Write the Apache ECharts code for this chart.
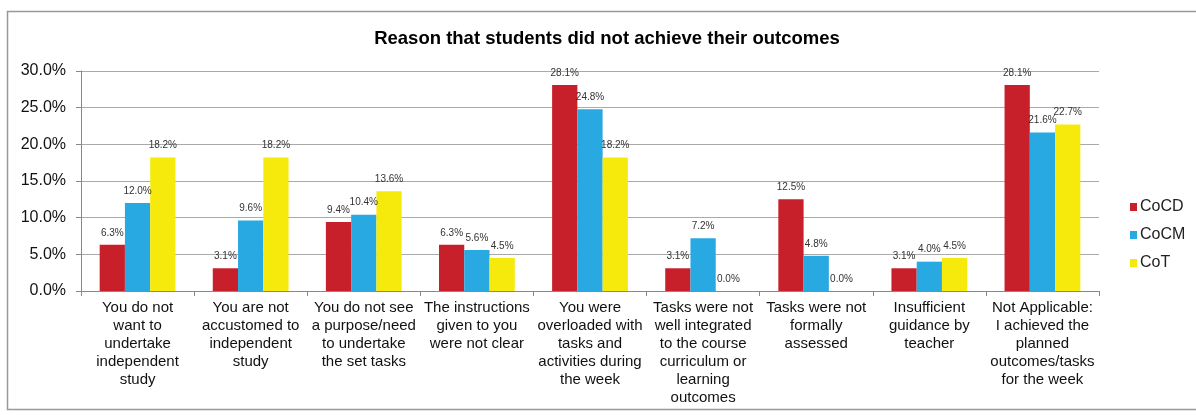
<!DOCTYPE html>
<html>
<head>
<meta charset="utf-8">
<script src="https://cdn.jsdelivr.net/npm/echarts@6/dist/echarts.min.js"></script>
<style>
  html, body { margin: 0; padding: 0; background: #fff; }
  #chart { width: 1196px; height: 415px; }
</style>
</head>
<body>
<div id="chart"></div>
<script>
// categories along the x axis
const categories = [
    'You do not\nwant to\nundertake\nindependent\nstudy',
    'You are not\naccustomed to\nindependent\nstudy',
    'You do not see\na purpose/need\nto undertake\nthe set tasks',
    'The instructions\ngiven to you\nwere not clear',
    'You were\noverloaded with\ntasks and\nactivities during\nthe week',
    'Tasks were not\nwell integrated\nto the course\ncurriculum or\nlearning\noutcomes',
    'Tasks were not\nformally\nassessed',
    'Insufficient\nguidance by\nteacher',
    'Not Applicable:\nI achieved the\nplanned\noutcomes/tasks\nfor the week'
];
const cocd = [6.3, 3.1, 9.4, 6.3, 28.1, 3.1, 12.5, 3.1, 28.1];
const cocm = [12.0, 9.6, 10.4, 5.6, 24.8, 7.2, 4.8, 4.0, 21.6];
const cot = [18.2, 18.2, 13.6, 4.5, 18.2, 0.0, 0.0, 4.5, 22.7];
const yTicks = [0, 5, 10, 15, 20, 25, 30];

const font = 'Liberation Sans, Arial, sans-serif';

function makeSeries(name, data, color) {
    return {
        name: name,
        type: 'bar',
        data: data,
        barGap: '0%',
        barCategoryGap: '33%',
        itemStyle: { color: color },
        label: {
            show: true,
            position: 'top',
            distance: 7,
            color: '#333',
            fontFamily: font,
            fontSize: 10,
            formatter: p => p.value.toFixed(1) + '%'
        }
    };
}

const chart = echarts.init(document.getElementById('chart'));
chart.setOption({
    animation: false,
    textStyle: { fontFamily: font },
    title: {
        text: 'Reason that students did not achieve their outcomes',
        left: 602,
        textAlign: 'center',
        top: 24,
        textStyle: { fontFamily: font, fontSize: 18.5, fontWeight: 'bold', color: '#000' }
    },
    graphic: [{
        type: 'rect',
        shape: { x: 7.5, y: 11.5, width: 1200, height: 398 },
        style: { fill: 'none', stroke: '#999', lineWidth: 1.5 },
        silent: true
    }],
    legend: {
        orient: 'vertical',
        left: 1125,
        top: 194,
        itemWidth: 7,
        itemHeight: 8,
        itemGap: 12,
        icon: 'rect',
        textStyle: { fontFamily: font, fontSize: 16, color: '#222', padding: [0, 0, 0, -2] }
    },
    grid: { left: 81, right: 97, top: 71, bottom: 124, containLabel: false },
    xAxis: {
        type: 'category',
        data: categories,
        axisLine: { lineStyle: { color: '#888' } },
        axisTick: { show: true, alignWithLabel: false, length: 5, lineStyle: { color: '#888' } },
        axisLabel: {
            interval: 0,
            color: '#111',
            fontFamily: font,
            fontSize: 15,
            lineHeight: 18,
            margin: 8
        }
    },
    yAxis: {
        type: 'value',
        min: yTicks[0],
        max: yTicks[yTicks.length - 1],
        interval: 5,
        axisLine: { show: true, lineStyle: { color: '#888' } },
        axisTick: { show: true, length: 5, lineStyle: { color: '#888' } },
        splitLine: { lineStyle: { color: '#aaa' } },
        axisLabel: {
            color: '#111',
            fontFamily: font,
            fontSize: 16,
            margin: 15,
            formatter: v => v.toFixed(1) + '%'
        }
    },
    series: [
        makeSeries('CoCD', cocd, '#C8202B'),
        makeSeries('CoCM', cocm, '#29A9E1'),
        makeSeries('CoT', cot, '#F6EA0C')
    ]
});
</script>
</body>
</html>
